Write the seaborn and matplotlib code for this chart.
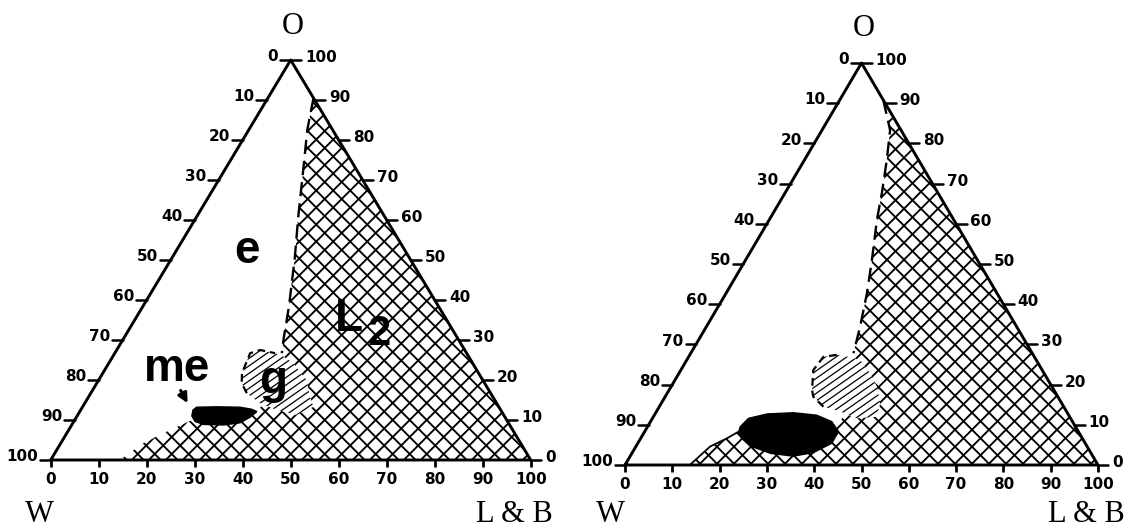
import numpy as np
import pandas as pd
import matplotlib
matplotlib.use("Agg")
import matplotlib.pyplot as plt
from matplotlib.collections import LineCollection
import seaborn as sns

sns.set_theme(style="white")
plt.rcParams["font.family"] = ["DejaVu Sans"]
plt.rcParams["text.color"] = "black"

# ---------------- data (compositions in %, O and L&B; W = 100 - O - L&B) ----------------
tick_values = [0, 10, 20, 30, 40, 50, 60, 70, 80, 90, 100]
vertex_labels = ["O", "W", "L & B"]

# Left diagram
left_dash_O = [90.5, 82.5, 72.4, 60.5, 50.5, 38.5, 30.5, 26.7]
left_dash_LB = [9.5, 12.2, 16.4, 21.3, 25.6, 30.4, 33.3, 34.8]
left_low_O = [20.0, 15.5, 12.1, 9.0, 10.0, 7.5, 4.2, 0.0]
left_low_LB = [36.0, 37.6, 36.9, 31.5, 24.5, 21.1, 17.2, 14.4]
left_g_O = [21.7, 26.7, 27.5, 26.7, 26.2, 24.2, 20.0, 15.8, 13.3, 11.25, 12.5, 14.2, 16.7, 19.2]
left_g_LB = [29.0, 28.2, 29.9, 33.4, 35.0, 38.4, 43.3, 46.1, 48.1, 45.6, 40.9, 36.5, 32.5, 30.2]
left_me_O = [12.5, 13.2, 13.3, 13.2, 12.7, 12.1, 10.7, 9.3, 8.75, 8.9, 9.6, 11.0]
left_me_LB = [23.4, 23.8, 28.0, 32.8, 35.5, 36.9, 36.2, 34.8, 31.6, 27.4, 25.3, 23.9]

# Right diagram
right_dash_O = [90.8, 83.3, 75.9, 67.6, 60.9, 51.0, 42.7, 34.4, 27.8]
right_dash_LB = [9.2, 14.4, 17.4, 20.5, 22.8, 26.7, 29.8, 32.5, 34.4]
right_low_O = [20.0, 12.8, 9.5, 5.0, 8.5, 6.6, 4.6, 0.0]
right_low_LB = [37.0, 40.1, 40.05, 32.5, 20.05, 18.2, 15.7, 13.7]
right_g_O = [18.7, 23.6, 26.9, 27.4, 26.9, 26.1, 22.8, 19.5, 15.3, 12.0, 11.6, 13.3, 14.5, 17.0]
right_g_LB = [30.2, 28.0, 28.5, 31.1, 33.8, 36.7, 40.4, 43.5, 46.3, 47.2, 43.2, 38.9, 34.7, 31.3]
right_me_O = [9.5, 11.6, 12.7, 13.0, 12.4, 10.8, 8.3, 5.4, 3.1, 2.2, 2.9, 4.6, 6.6, 8.0]
right_me_LB = [19.6, 20.3, 23.7, 29.1, 34.3, 38.3, 41.0, 41.0, 38.3, 34.5, 29.3, 24.5, 21.4, 20.0]
right_edge_O = [8.5, 6.6, 4.6, 0.0]
right_edge_LB = [20.05, 18.2, 15.7, 13.7]

# region labels (left diagram): text, horizontal position, O
region_text = ["e", "me", "g", "L", "2"]
region_X = [41.0, 26.3, 46.3, 62.1, 68.5]
region_O = [49.3, 19.7, 16.75, 32.3, 28.7]
region_size = [33, 33, 33, 33, 30]


def to_xy(lb, o):
    lb = np.asarray(lb, float)
    o = np.asarray(o, float)
    return lb + o / 2.0, o


fig = plt.figure(figsize=(11.35, 5.28), dpi=100)
axL = fig.add_axes([0, 0, 567 / 1135, 1])
axR = fig.add_axes([567 / 1135, 0, 568 / 1135, 1])
LIMS = {axL: ((-10.56, 107.56), (-17.0, 115.0)),
        axR: ((-12.26, 107.82), (-15.67, 115.67))}
for a, (xl, yl) in LIMS.items():
    a.set_xlim(*xl)
    a.set_ylim(*yl)
    a.set_autoscale_on(False)
    a.set_axis_off()

tick_font = dict(fontsize=11, fontweight="bold", family="DejaVu Sans", color="black")
title_font = dict(fontsize=22, family="Liberation Serif", color="black")


def hatch(ax, patch, angle_deg, step_px, lw):
    """Draw hatch lines (fixed pixel spacing) clipped to a patch."""
    bb = ax.get_position()
    wpx = fig.get_figwidth() * fig.dpi * bb.width
    hpx = fig.get_figheight() * fig.dpi * bb.height
    (x0, x1), (y0, y1) = LIMS[ax]
    sx = wpx / (x1 - x0)
    sy = hpx / (y1 - y0)
    t = np.tan(np.radians(angle_deg))
    xs = np.array([-10.0, 110.0])
    xp = xs * sx
    ylo, yhi = -20 * sy, 120 * sy
    cands = [ylo - t * xp[0], ylo - t * xp[1], yhi - t * xp[0], yhi - t * xp[1]]
    cs = np.arange(min(cands), max(cands), step_px)
    segs = [[(xs[0], (t * xp[0] + c) / sy), (xs[1], (t * xp[1] + c) / sy)] for c in cs]
    lc = LineCollection(segs, colors="black", linewidths=lw, zorder=patch.get_zorder() + 0.1)
    ax.add_collection(lc, autolim=False)
    lc.set_clip_path(patch)


def draw_panel(ax, dO, dLB, lO, lLB, gO, gLB, mO, mLB, w_pos, lb_pos):
    # L2 (cross-hatched) region
    pO = list(dO) + list(lO) + [0.0]
    pLB = list(dLB) + list(lLB) + [100.0]
    x, y = to_xy(pLB, pO)
    p = ax.fill(x, y, facecolor="white", edgecolor="none", linewidth=0, zorder=1)[0]
    hatch(ax, p, 45, 17.0, 1.35)
    hatch(ax, p, -45, 17.0, 1.35)
    # g region
    x, y = to_xy(gLB, gO)
    pg = ax.fill(x, y, facecolor="white", edgecolor="none", linewidth=0, zorder=2)[0]
    hatch(ax, pg, 35, 7.5, 0.9)
    ox = np.concatenate([x[-2:], x[:4]])
    oy = np.concatenate([y[-2:], y[:4]])
    sns.lineplot(x=ox, y=oy, sort=False, estimator=None, color="black", lw=1.6,
                 linestyle=(0, (3.5, 2.2)), ax=ax, zorder=2.5)
    # me region
    x, y = to_xy(mLB, mO)
    ax.fill(x, y, facecolor="black", edgecolor="black", linewidth=1, zorder=3)
    # dashed boundary
    x, y = to_xy(dLB, dO)
    sns.lineplot(x=x, y=y, sort=False, estimator=None, color="black", lw=1.7,
                 linestyle=(0, (6, 3)), ax=ax, zorder=4)
    # triangle
    tri = pd.DataFrame({"LB": [0, 100, 0, 0], "O": [0, 0, 100, 0]})
    tx, ty = to_xy(tri["LB"], tri["O"])
    sns.lineplot(x=tx, y=ty, sort=False, estimator=None, color="black", lw=2.1, ax=ax, zorder=5)
    # ticks
    for v in tick_values:
        ax.plot([v, v], [0, -1.8], color="black", lw=2, solid_capstyle="butt", zorder=5)
        ax.text(v, -4.8, str(v), ha="center", va="center", **tick_font)
        o = 100 - v
        xe = o / 2.0
        ax.plot([xe, xe - 2.2], [o, o], color="black", lw=1.8, zorder=5)
        ax.text(xe - 2.6, o + 0.8, str(v), ha="right", va="center", **tick_font)
        xr = 100 - v / 2.0
        ax.plot([xr, xr + 2.2], [v, v], color="black", lw=1.8, zorder=5)
        ax.text(xr + 3.0, v + 0.6, str(v), ha="left", va="center", **tick_font)
    ax.text(50.5, 108.5, vertex_labels[0], ha="center", va="center", **title_font)
    ax.text(w_pos[0], w_pos[1], vertex_labels[1], ha="center", va="center", **title_font)
    ax.text(lb_pos[0], lb_pos[1], vertex_labels[2], ha="center", va="center", **title_font)


draw_panel(axL, left_dash_O, left_dash_LB, left_low_O, left_low_LB,
           left_g_O, left_g_LB, left_me_O, left_me_LB, (-2.4, -13.6), (96.5, -13.6))
draw_panel(axR, right_dash_O, right_dash_LB, right_low_O, right_low_LB,
           right_g_O, right_g_LB, right_me_O, right_me_LB, (-3.0, -12.4), (97.5, -12.4))

ex, ey = to_xy(right_edge_LB, right_edge_O)
sns.lineplot(x=ex, y=ey, sort=False, estimator=None, color="black", lw=1.3, ax=axR, zorder=4)

for t, xx, oo, fs in zip(region_text, region_X, region_O, region_size):
    axL.text(xx, oo, t, ha="center", va="baseline", fontsize=fs, fontweight="bold",
             family="Liberation Sans", color="black", zorder=6)

axL.annotate("", xy=(28.8, 13.6), xytext=(26.8, 18.0),
             arrowprops=dict(arrowstyle="-|>", color="black", lw=2.2, mutation_scale=14),
             zorder=6)

for a, (xl, yl) in LIMS.items():
    a.set_xlim(*xl)
    a.set_ylim(*yl)
    if a.get_legend() is not None:
        a.get_legend().remove()

fig.savefig("out.png", dpi=100)
